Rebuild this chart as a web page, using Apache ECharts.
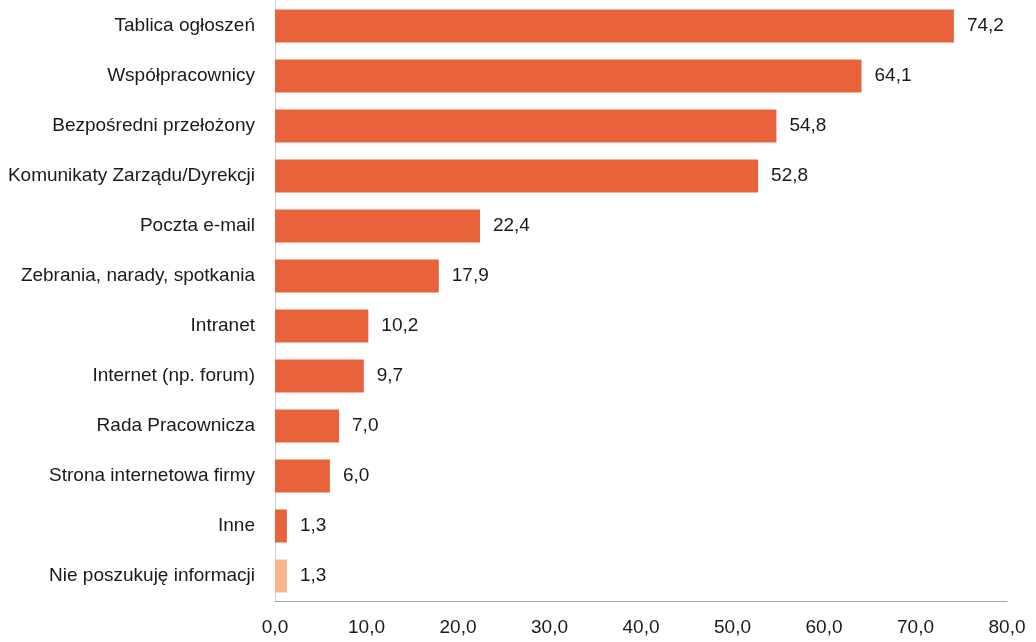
<!DOCTYPE html>
<html>
<head>
<meta charset="utf-8">
<script src="https://cdn.jsdelivr.net/npm/echarts@6/dist/echarts.min.js"></script>
<style>
  html, body { margin: 0; padding: 0; background: #fff; }
  #chart { width: 1036px; height: 642px; }
</style>
</head>
<body>
<div id="chart"></div>
<script>
const categories = [
  'Tablica ogłoszeń',
  'Współpracownicy',
  'Bezpośredni przełożony',
  'Komunikaty Zarządu/Dyrekcji',
  'Poczta e-mail',
  'Zebrania, narady, spotkania',
  'Intranet',
  'Internet (np. forum)',
  'Rada Pracownicza',
  'Strona internetowa firmy',
  'Inne',
  'Nie poszukuję informacji'
];
const values = [74.2, 64.1, 54.8, 52.8, 22.4, 17.9, 10.2, 9.7, 7.0, 6.0, 1.3, 1.3];
const xTicks = [0, 10, 20, 30, 40, 50, 60, 70, 80];

const mainColor = '#E8623C';
const lightColor = '#F9B489';
const font = '"Liberation Sans", Arial, sans-serif';

const fmt = v => v.toFixed(1).replace('.', ',');

const chart = echarts.init(document.getElementById('chart'));
chart.setOption({
  animation: false,
  textStyle: { fontFamily: font },
  grid: {
    left: 275, right: 29, top: 1, bottom: 41,
    containLabel: false, outerBoundsMode: 'none'
  },
  xAxis: {
    type: 'value',
    min: xTicks[0],
    max: xTicks[xTicks.length - 1],
    interval: 10,
    axisLine: { show: true, lineStyle: { color: '#A6A6A6', width: 1 } },
    axisTick: { show: false },
    splitLine: { show: false },
    axisLabel: {
      color: '#1a1a1a', fontSize: 19, margin: 17, fontFamily: font,
      formatter: v => fmt(v)
    }
  },
  yAxis: {
    type: 'category',
    inverse: true,
    data: categories,
    axisLine: { show: true, lineStyle: { color: '#D0D0D0', width: 1 } },
    axisTick: { show: false },
    axisLabel: { color: '#1a1a1a', fontSize: 19, margin: 20, fontFamily: font }
  },
  series: [{
    type: 'bar',
    barWidth: '66%',
    data: values.map((v, i) => ({
      value: v,
      itemStyle: { color: i === values.length - 1 ? lightColor : mainColor }
    })),
    label: {
      show: true,
      position: 'right',
      distance: 13,
      color: '#1a1a1a',
      fontSize: 19,
      fontFamily: font,
      formatter: p => fmt(p.value)
    }
  }]
});
</script>
</body>
</html>
